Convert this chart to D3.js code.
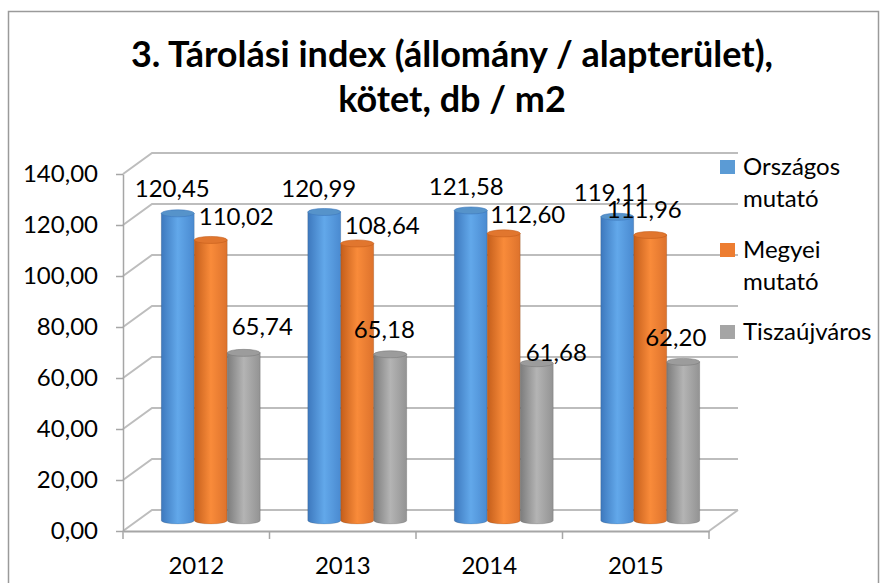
<!DOCTYPE html>
<html>
<head>
<meta charset="utf-8">
<script src="https://cdn.jsdelivr.net/npm/d3@7"></script>
<style>
  body { margin: 0; background: #fff; }
  svg text { font-family: Lato, "Open Sans", sans-serif; fill: #000; }
</style>
</head>
<body>
<div class="chart"></div>
<script>
const width = 880;
const height = 583;

// data
const years = ['2012', '2013', '2014', '2015'];
const seriesNames = ['Országos mutató', 'Megyei mutató', 'Tiszaújváros'];
const orszagos = [120.45, 120.99, 121.58, 119.11];
const megyei = [110.02, 108.64, 112.60, 111.96];
const tiszaujvaros = [65.74, 65.18, 61.68, 62.20];
const yTicks = [0, 20, 40, 60, 80, 100, 120, 140];
const titleLines = ['3. Tárolási index (állomány / alapterület),', 'kötet, db / m2'];

// layout
const plot = {left: 123, right: 709, top: 174, bottom: 531};
const depth = {dx: 29, dy: -21}; // back wall offset (pseudo 3D)
const colors = ['#5b9bd5', '#ed7d31', '#a5a5a5'];
const shades = [
  ['#3d78bd', '#62a8ea', '#4a8ad0'],
  ['#c45e1b', '#f98b3a', '#dd722c'],
  ['#7c7c7c', '#b4b4b4', '#939393']
];
// where Excel dropped each data label, relative to the cylinder top [dx, dy]
const labelNudge = [
  [[-5.5, -16], [-5.5, -15], [-4.5, -15.5], [-6, -16]],
  [[25.5, -15], [25, -9.5], [24, -10], [-6, -17]],
  [[18.5, -18], [-6, -16], [19.5, -2], [-7.5, -16]]
];
const legendRows = [['Országos', 'mutató'], ['Megyei', 'mutató'], ['Tiszaújváros']];

const fmt = v => v.toFixed(2).replace('.', ',');
const fontSize = '24px';

const render = () => {
  const values = [orszagos, megyei, tiszaujvaros];

  const svg = d3.select('.chart').append('svg')
    .attr('width', width).attr('height', height);

  const defs = svg.append('defs');
  shades.forEach((s, i) => {
    const g = defs.append('linearGradient').attr('id', 'cyl' + i)
      .attr('x1', '0%').attr('x2', '100%').attr('y1', '0%').attr('y2', '0%');
    g.append('stop').attr('offset', '0%').attr('stop-color', s[0]);
    g.append('stop').attr('offset', '50%').attr('stop-color', s[1]);
    g.append('stop').attr('offset', '100%').attr('stop-color', s[2]);
  });

  // chart border (bottom edge is cut off in the original)
  svg.append('rect')
    .attr('x', 8.5).attr('y', 11.5).attr('width', 870).attr('height', 600)
    .attr('fill', 'none').attr('stroke', '#9a9a9a').attr('stroke-width', 1.5);

  // title
  svg.append('g').selectAll('text').data(titleLines).enter().append('text')
    .attr('x', 452).attr('y', (d, i) => 67 + i * 45)
    .attr('text-anchor', 'middle')
    .style('font-size', '36px').style('font-weight', 'bold')
    .text(d => d);

  const yScale = d3.scaleLinear().domain([0, 140]).range([plot.bottom, plot.top]);
  const xScale = d3.scaleBand().domain(years).range([plot.left, plot.right]);
  const inner = d3.scaleBand().domain(seriesNames).range([0, 99]);

  // back wall gridlines + side wall diagonals
  const grid = svg.append('g').attr('stroke', '#bdbdbd').attr('stroke-width', 2).attr('fill', 'none');
  grid.selectAll('.gl').data(yTicks).enter().append('path')
    .attr('class', 'gl')
    .attr('d', d => `M${plot.left},${yScale(d)}L${plot.left + depth.dx},${yScale(d) + depth.dy}H${plot.right + depth.dx}`);
  // floor right edge
  grid.append('path')
    .attr('d', `M${plot.right},${plot.bottom}L${plot.right + depth.dx},${plot.bottom + depth.dy}`);

  // y axis
  const yAxis = d3.axisLeft(yScale).tickValues(yTicks).tickFormat(fmt)
    .tickSize(7).tickSizeOuter(0).tickPadding(18);
  const ya = svg.append('g').attr('transform', `translate(${plot.left},0)`).call(yAxis);
  ya.selectAll('path, line').attr('stroke', '#a6a6a6').attr('stroke-width', 1.5);
  ya.selectAll('text').style('font-size', fontSize);

  // x axis: line, boundary ticks, centred labels
  const xa = svg.append('g').attr('transform', `translate(0,${plot.bottom})`)
    .call(d3.axisBottom(xScale).tickSize(0).tickPadding(26));
  xa.select('.domain').attr('stroke', '#a6a6a6').attr('stroke-width', 2);
  xa.selectAll('text').style('font-size', fontSize);
  xa.selectAll('.bound').data(years.map(d => xScale(d)).concat([plot.right])).enter()
    .append('line').attr('class', 'bound')
    .attr('x1', d => d).attr('x2', d => d).attr('y1', 0).attr('y2', 8)
    .attr('stroke', '#a6a6a6').attr('stroke-width', 1.5);

  // cylinders, set at half depth
  const ry = 3.5;
  const bars = [];
  years.forEach((yr, j) => {
    seriesNames.forEach((s, i) => {
      const x0 = xScale(yr) + xScale.bandwidth() / 2 - 49.5 + depth.dx / 2 + inner(s);
      bars.push({i, j, v: values[i][j], x0, w: inner.bandwidth()});
    });
  });
  const base = yScale(0) + depth.dy / 2;
  const cyl = svg.append('g').selectAll('g').data(bars).enter().append('g');
  cyl.append('path')
    .attr('d', d => {
      const top = yScale(d.v) + depth.dy / 2;
      const rx = d.w / 2;
      return `M${d.x0},${top}V${base}A${rx},${ry} 0 0 0 ${d.x0 + d.w},${base}V${top}Z`;
    })
    .attr('fill', d => `url(#cyl${d.i})`)
    .attr('stroke', 'rgba(0,0,0,0.12)');
  cyl.append('ellipse')
    .attr('cx', d => d.x0 + d.w / 2)
    .attr('cy', d => yScale(d.v) + depth.dy / 2)
    .attr('rx', d => d.w / 2).attr('ry', ry)
    .attr('fill', d => d3.color(colors[d.i]).darker(0.15))
    .attr('stroke', d => d3.color(shades[d.i][0]).copy({opacity: 0.6}));

  // data labels
  svg.append('g').selectAll('text').data(bars).enter().append('text')
    .attr('x', d => d.x0 + d.w / 2 + labelNudge[d.i][d.j][0])
    .attr('y', d => yScale(d.v) + depth.dy / 2 + labelNudge[d.i][d.j][1])
    .attr('text-anchor', 'middle')
    .style('font-size', fontSize)
    .text(d => fmt(d.v));

  // legend
  const legendY = [175, 258, 340];
  const legend = svg.append('g').selectAll('g').data(seriesNames).enter().append('g')
    .attr('transform', (d, i) => `translate(720,${legendY[i]})`);
  legend.append('rect')
    .attr('x', 0).attr('y', -15).attr('width', 15).attr('height', 14)
    .attr('fill', (d, i) => colors[i]);
  legend.append('text')
    .style('font-size', fontSize)
    .selectAll('tspan').data((d, i) => legendRows[i]).enter().append('tspan')
    .attr('x', 23).attr('y', (d, k) => k * 32)
    .text(d => d);
};

render();
</script>
</body>
</html>
